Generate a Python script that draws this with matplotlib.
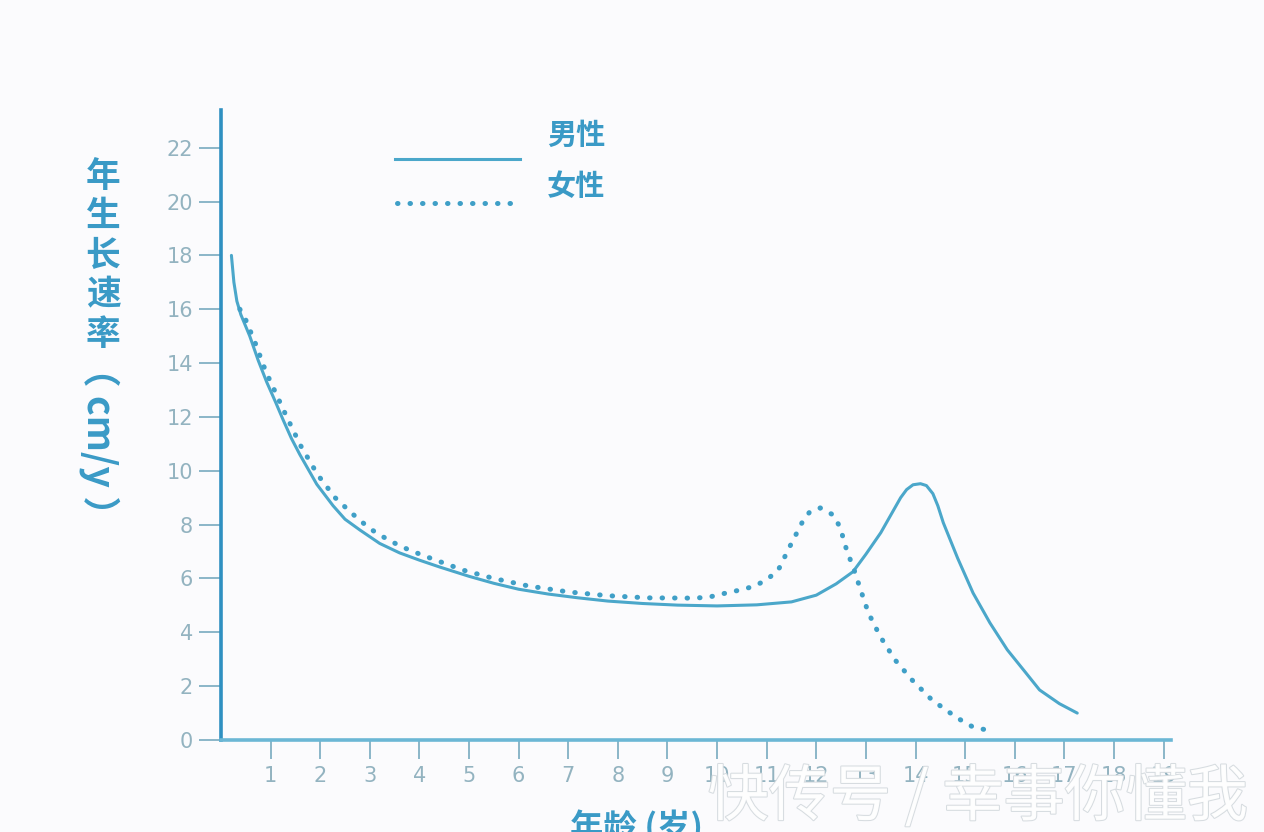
import matplotlib
matplotlib.use('Agg')
import matplotlib.pyplot as plt
import matplotlib.patheffects as pe
from matplotlib.lines import Line2D

plt.rcParams['font.family'] = ['Noto Sans CJK SC', 'DejaVu Sans']

# readings (age in years, growth rate cm/y)
male_age = [0.21, 0.26, 0.32, 0.4, 0.58, 0.75, 0.92, 1.1, 1.25, 1.42, 1.59,
            1.93, 2.26, 2.5, 2.8, 3.2, 3.6, 4.0, 4.4, 5.0, 5.5, 6.0, 6.6, 7.2,
            7.8, 8.5, 9.2, 10.0, 10.8, 11.5, 12.0, 12.4, 12.74, 13.0, 13.3,
            13.5, 13.7, 13.82, 13.95, 14.1, 14.22, 14.35, 14.45, 14.56, 14.85,
            15.16, 15.5, 15.85, 16.2, 16.5, 16.9, 17.26]
male_rate = [18.0, 17.0, 16.3, 15.8, 15.0, 14.1, 13.3, 12.55, 11.9, 11.2, 10.6,
             9.5, 8.7, 8.2, 7.8, 7.3, 6.95, 6.68, 6.43, 6.08, 5.82, 5.6, 5.42,
             5.28, 5.16, 5.07, 5.01, 4.98, 5.02, 5.13, 5.38, 5.8, 6.25, 6.9,
             7.7, 8.35, 9.0, 9.3, 9.48, 9.52, 9.45, 9.15, 8.7, 8.07, 6.75, 5.46,
             4.35, 3.35, 2.55, 1.86, 1.35, 1.0]

female_age = [0.38, 0.5, 0.7, 0.9, 1.1, 1.3, 1.6, 1.95, 2.3, 2.65, 3.0, 3.4,
              3.8, 4.3, 4.9, 5.5, 6.2, 7.0, 7.8, 8.6, 9.5, 9.82, 10.16, 10.46,
              10.77, 11.03, 11.23, 11.47, 11.72, 11.87, 12.08, 12.34, 12.48,
              12.62, 12.74, 12.88, 13.05, 13.29, 13.59, 13.93, 14.33, 14.84,
              15.16, 15.44]
female_rate = [16.0, 15.6, 14.7, 13.7, 12.9, 12.1, 10.95, 9.85, 9.0, 8.4, 7.85,
               7.4, 7.05, 6.7, 6.3, 6.0, 5.72, 5.5, 5.36, 5.28, 5.27, 5.3,
               5.45, 5.57, 5.72, 6.0, 6.3, 7.2, 8.1, 8.48, 8.62, 8.36, 7.9, 7.0,
               6.44, 5.65, 4.72, 3.84, 2.97, 2.23, 1.49, 0.82, 0.48, 0.37]

x_ticks = list(range(1, 20))
y_ticks = list(range(0, 23, 2))
ylabel_chars = ['年', '生', '长', '速', '率']

line_color = '#4ba7ca'
dot_color = '#3f9fc7'
axis_color = '#2f90c1'
tick_color = '#8ab6c8'
text_color = '#3a9ac6'

W, H = 1264, 832
fig = plt.figure(figsize=(W / 100, H / 100), dpi=100, facecolor='#fbfbfd')
ax = fig.add_axes([221 / W, (H - 740) / H, 950 / W, 630 / H])
ax.set_facecolor('none')

ax.plot(male_age, male_rate, color=line_color, lw=2.2,
        solid_capstyle='round', solid_joinstyle='round')
ax.plot(female_age, female_rate, color=dot_color, lw=3.6,
        linestyle=(0, (0.1, 2.4)), dash_capstyle='round')

ax.set_xlim(0, 19.15)
ax.set_ylim(0, 23.4)
ax.set_xticks(x_ticks)
ax.set_yticks(y_ticks)

for s in ['top', 'right']:
    ax.spines[s].set_visible(False)
ax.spines['left'].set_color(axis_color)
ax.spines['left'].set_linewidth(2.6)
ax.spines['bottom'].set_color('#6bb7d5')
ax.spines['bottom'].set_linewidth(2.6)

ax.tick_params(axis='y', length=16, width=1.4, color=tick_color, pad=4,
               labelsize=15, labelcolor='#93b3c0')
ax.tick_params(axis='x', length=14, width=1.4, color=tick_color, pad=5,
               labelsize=15, labelcolor='#93b3c0')
for lab in ax.get_xticklabels() + ax.get_yticklabels():
    lab.set_family(['DejaVu Sans'])

# y label: upright stacked chars, unit rotated
for i, ch in enumerate(ylabel_chars):
    fig.text(103 / W, 1 - (176 + i * 39.5) / H, ch, fontsize=25,
             fontweight='bold', color=text_color, ha='center', va='center')
fig.text(99 / W, 1 - 441 / H, '（ cm/y ）', fontsize=27, fontweight='bold',
         color=text_color, ha='center', va='center', rotation=-90)

# x label, cut off by the bottom edge as in the reference
fig.text(637 / W, 1 - 810 / H, '年龄 (岁)', fontsize=24, fontweight='bold',
         color=text_color, ha='center', va='top')

# legend drawn by hand
fig.add_artist(Line2D([395 / W, 520 / W], [1 - 159 / H, 1 - 159 / H],
                      transform=fig.transFigure, color=line_color, lw=2.2))
fig.add_artist(Line2D([397 / W, 520 / W], [1 - 203 / H, 1 - 203 / H],
                      transform=fig.transFigure, color=dot_color, lw=3.6,
                      linestyle=(0, (0.1, 2.4)), dash_capstyle='round'))
fig.text(547 / W, 1 - 135 / H, '男性', fontsize=21, fontweight='bold',
         color=text_color, ha='left', va='center')
fig.text(547 / W, 1 - 186 / H, '女性', fontsize=21, fontweight='bold',
         color=text_color, ha='left', va='center')

# watermark
fig.text(978 / W, 1 - 798 / H, '快传号 / 幸事你懂我', fontsize=44,
         color='white', ha='center', va='center', alpha=0.95,
         path_effects=[pe.withStroke(linewidth=1.5, foreground='#d5dbdf')])

fig.savefig('out.png', dpi=100, facecolor=fig.get_facecolor())
